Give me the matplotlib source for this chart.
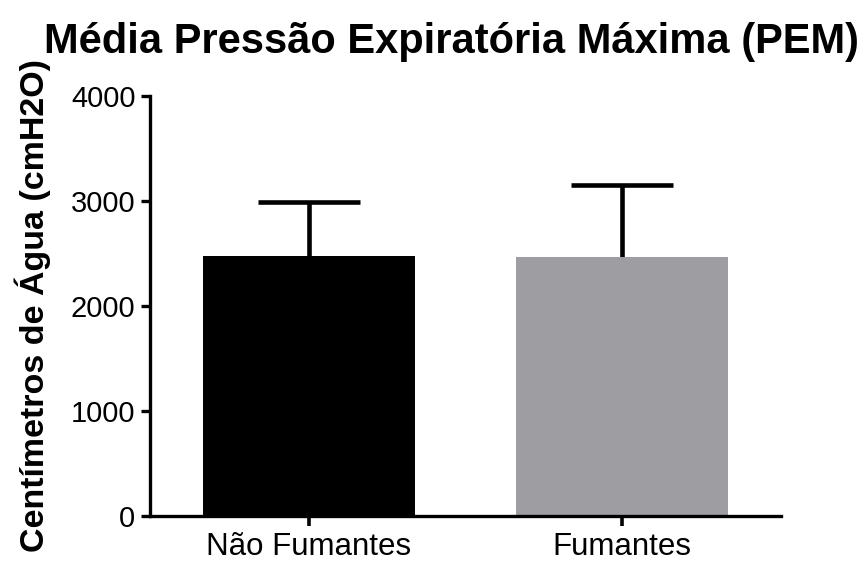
import matplotlib.pyplot as plt
import numpy as np

plt.rcParams['font.family'] = ['Liberation Sans', 'DejaVu Sans']

groups = ['Não Fumantes', 'Fumantes']
means = [2475, 2470]
sds = [520, 680]
colors = ['#000000', '#9e9da2']

fig = plt.figure(figsize=(8.66, 5.61), dpi=100)
ax = fig.add_axes([0.1732, 0.0802, 0.7286, 0.7487])

x = np.arange(len(groups))
ax.bar(x, means, width=0.68, color=colors, zorder=2)
# upper error bars only
_, caps, _ = ax.errorbar(x, means, yerr=[np.zeros(len(sds)), sds], fmt='none',
                         ecolor='black', elinewidth=3.3, capsize=37, capthick=3.3, zorder=1)
caps[0].set_visible(False)

ax.set_xlim(-0.508, 1.508)
ax.set_ylim(0, 4000)
ax.set_yticks(np.arange(0, 4001, 1000))
ax.set_xticks(x)
ax.set_xticklabels(groups)

for s in ['top', 'right']:
    ax.spines[s].set_visible(False)
for s in ['left', 'bottom']:
    ax.spines[s].set_linewidth(2.4)
ax.tick_params(axis='y', length=6.5, width=2.4, labelsize=21, pad=4)
ax.tick_params(axis='x', length=7.5, width=2.6, labelsize=22.5, pad=4)

ax.set_ylabel('Centímetros de Água (cmH2O)', fontsize=24.5, fontweight='bold', labelpad=14)
fig.text(0.521, 0.906, 'Média Pressão Expiratória Máxima (PEM)', fontsize=30,
         fontweight='bold', ha='center', va='baseline')

fig.savefig('out.png', dpi=100)
